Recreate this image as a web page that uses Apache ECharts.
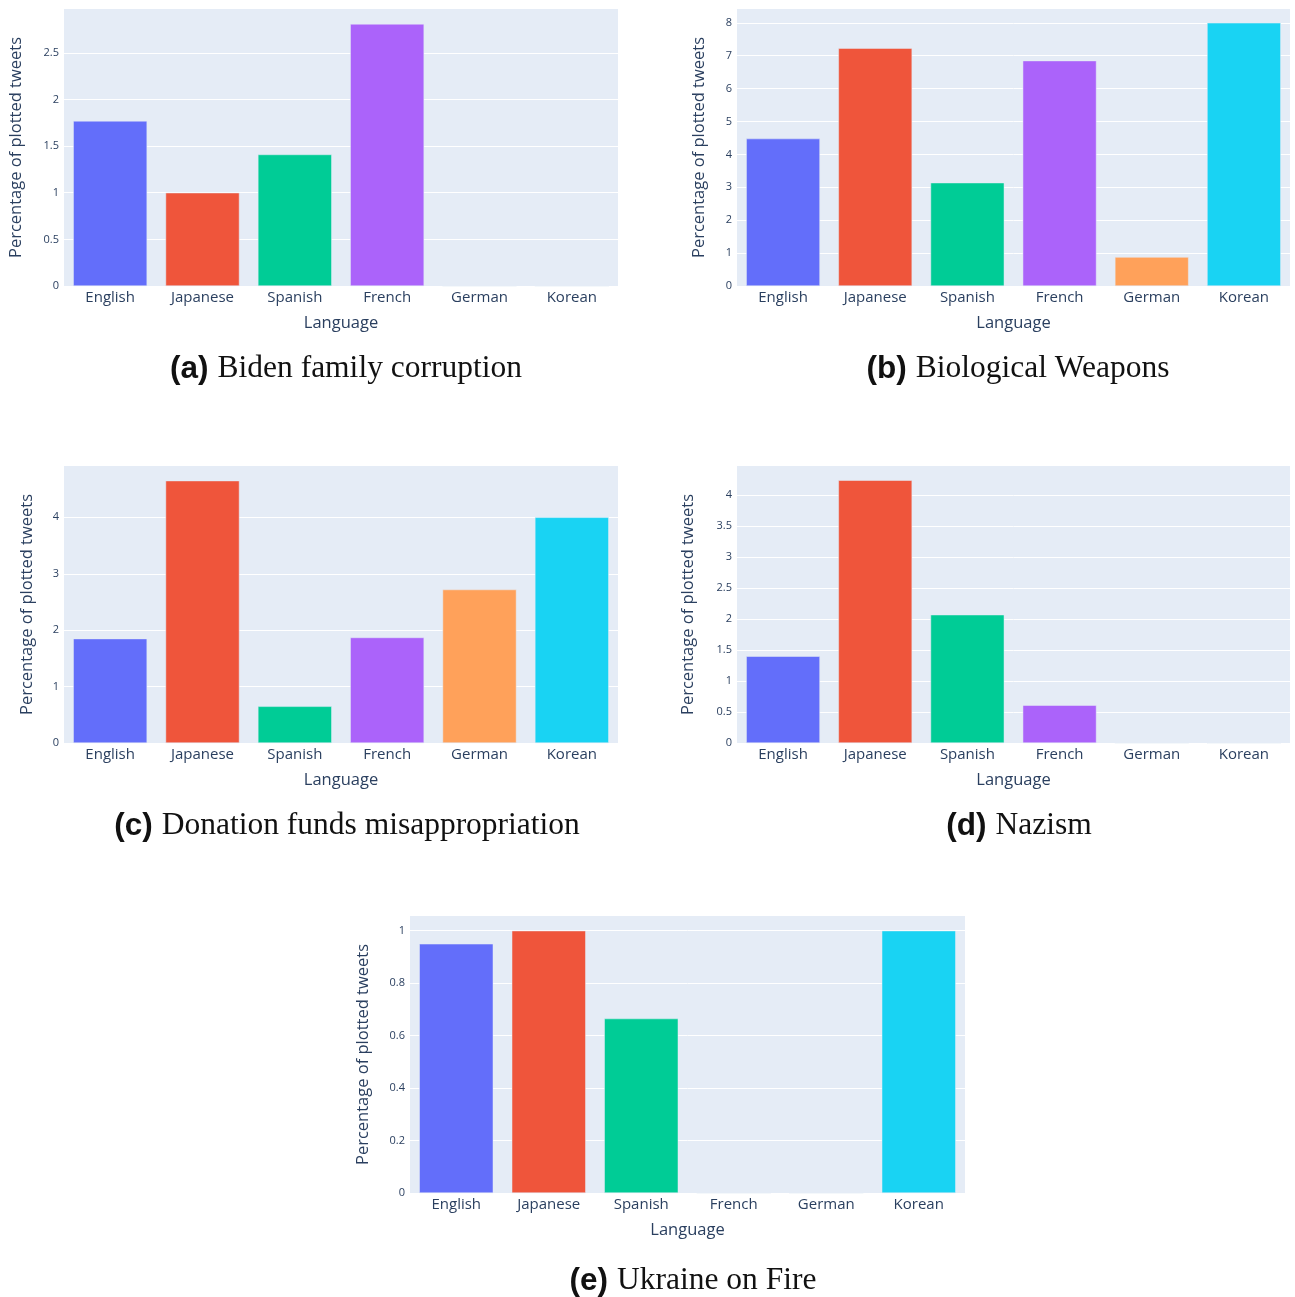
<!DOCTYPE html>
<html>
<head>
<meta charset="utf-8">
<script src="https://cdn.jsdelivr.net/npm/echarts@6/dist/echarts.min.js"></script>
<style>
  html, body { margin: 0; padding: 0; background: #fff; }
  #main { width: 1295px; height: 1297px; }
</style>
</head>
<body>
<div id="main"></div>
<script>
// plotly default palette
const ColorList = ['#636EFA', '#EF553B', '#00CC96', '#AB63FA', '#FFA15A', '#19D3F3'];

const languages = ['English', 'Japanese', 'Spanish', 'French', 'German', 'Korean'];

const bidenFamily   = [1.77, 1.0, 1.41, 2.81, 0, 0];
const bioWeapons    = [4.48, 7.23, 3.14, 6.85, 0.88, 8.0];
const donationFunds = [1.85, 4.65, 0.65, 1.87, 2.72, 4.0];
const nazism        = [1.40, 4.24, 2.07, 0.61, 0, 0];
const ukraineFire   = [0.95, 1.0, 0.665, 0, 0, 1.0];

const captions = [
    ['(a)', 'Biden family corruption'],
    ['(b)', 'Biological Weapons'],
    ['(c)', 'Donation funds misappropriation'],
    ['(d)', 'Nazism'],
    ['(e)', 'Ukraine on Fire'],
];

// y axis upper limits and tick step
const yMax      = [2.97, 8.42, 4.91, 4.47, 1.056];
const yInterval = [0.5, 1, 1, 0.5, 0.2];

const panels = [bidenFamily, bioWeapons, donationFunds, nazism, ukraineFire];

// layout boxes
const boxes = [
    { left: 64,  top: 9,   width: 554, height: 277, nameGap: 39, cx: 341,  cy: 348 },
    { left: 737, top: 9,   width: 553, height: 277, nameGap: 29, cx: 1013, cy: 348 },
    { left: 64,  top: 466, width: 554, height: 277, nameGap: 28, cx: 342,  cy: 805 },
    { left: 737, top: 466, width: 553, height: 277, nameGap: 40, cx: 1014, cy: 805 },
    { left: 410, top: 916, width: 555, height: 277, nameGap: 38, cx: 688,  cy: 1260 },
];

const textColor = '#2a3f5f';

let chart = echarts.init(document.getElementById('main'));

let grid = [], xAxis = [], yAxis = [], series = [], title = [];

for (let i = 0; i < panels.length; i++) {
    let b = boxes[i];
    grid.push({
        left: b.left, top: b.top, width: b.width, height: b.height,
        show: true,
        backgroundColor: '#E5ECF6',
        borderWidth: 0,
    });
    xAxis.push({
        type: 'category',
        gridIndex: i,
        data: languages,
        axisLine: { show: false },
        axisTick: { show: false },
        axisLabel: {
            color: textColor,
            fontFamily: 'Open Sans',
            fontSize: 15,
            margin: 4,
            interval: 0,
        },
        name: 'Language',
        nameLocation: 'middle',
        nameGap: 29,
        nameTextStyle: { color: textColor, fontFamily: 'Open Sans', fontSize: 16.5 },
    });
    yAxis.push({
        type: 'value',
        gridIndex: i,
        min: 0,
        max: yMax[i],
        interval: yInterval[i],
        axisLine: { show: false },
        axisTick: { show: false },
        axisLabel: {
            color: textColor,
            fontFamily: 'Open Sans',
            fontSize: 11,
            margin: 5,
            showMaxLabel: false,
        },
        splitLine: {
            show: true,
            showMaxLine: false,
            lineStyle: { color: '#ffffff', width: 1 },
        },
        name: 'Percentage of plotted tweets',
        nameLocation: 'middle',
        nameRotate: 90,
        nameGap: b.nameGap,
        nameTextStyle: { color: textColor, fontFamily: 'Open Sans', fontSize: 16.5 },
    });
    series.push({
        type: 'bar',
        xAxisIndex: i,
        yAxisIndex: i,
        data: panels[i],
        barCategoryGap: '20%',
        itemStyle: {
            color: (p) => ColorList[p.dataIndex],
            borderColor: '#E5ECF6',
            borderWidth: 0.5,
        },
        silent: true,
    });
    title.push({
        text: `{b|${captions[i][0]}} {s|${captions[i][1]}}`,
        left: b.cx,
        top: b.cy,
        textAlign: 'center',
        textStyle: {
            fontWeight: 'normal',
            rich: {
                b: { fontFamily: 'Liberation Sans', fontWeight: 'bold', fontSize: 31.5, color: '#111', padding: [0, 4, 0, 0] },
                s: { fontFamily: 'Liberation Serif', fontWeight: 'normal', fontSize: 31.5, color: '#111' },
            },
        },
    });
}

chart.setOption({
    animation: false,
    title: title,
    grid: grid,
    xAxis: xAxis,
    yAxis: yAxis,
    series: series,
});
</script>
</body>
</html>
